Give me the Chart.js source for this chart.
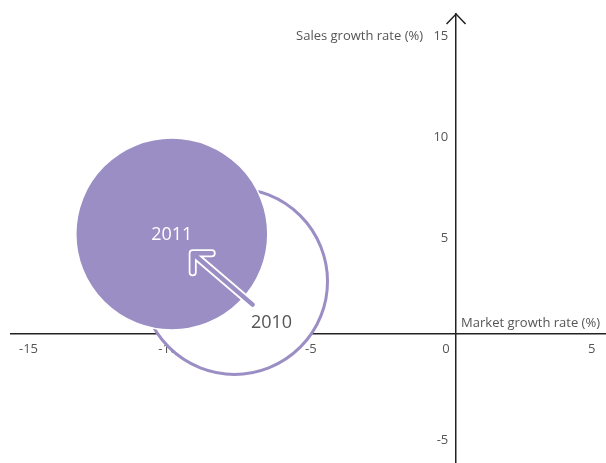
<!DOCTYPE html>
<html><head><meta charset="utf-8">
<script src="https://cdn.jsdelivr.net/npm/chart.js@4.4.1/dist/chart.umd.min.js"></script>
<style>html,body{margin:0;padding:0;background:#fff}#wrap{width:606px;height:463px;position:relative}</style>
</head><body><div id="wrap"><canvas id="c" width="606" height="463"></canvas></div>
<script>
const years = ['2010', '2011'];
const marketGrowth = [-7.95, -10.2];
const salesGrowth = [2.6, 4.95];
const bubbleRadius = [93, 96];
const xTicks = [-15, -10, -5, 0, 5];
const yTicks = [-5, 0, 5, 10, 15];
const arrowFrom = [-7.3, 1.45];
const arrowTo = [-9.45, 4.0];
const xTitle = 'Market growth rate (%)';
const yTitle = 'Sales growth rate (%)';

const PURPLE = '#9b8ec4';
const TEXT = '#555';
const AXIS = '#222';
const FONT = 'Open Sans';

const noPad = s => { s.paddingTop = 0; s.paddingBottom = 0; s.paddingLeft = 0; s.paddingRight = 0; };

const overlay = {
  id: 'overlay',
  afterDatasetsDraw(chart) {
    const ctx = chart.ctx, xs = chart.scales.x, ys = chart.scales.y, ca = chart.chartArea;
    const ax = xs.getPixelForValue(0), ay = ys.getPixelForValue(0);
    ctx.save();
    // axis arrow head
    ctx.strokeStyle = AXIS; ctx.lineWidth = 1.5; ctx.lineCap = 'butt';
    ctx.beginPath();
    ctx.moveTo(ax - 9.5, ca.top + 10); ctx.lineTo(ax, ca.top); ctx.lineTo(ax + 9.5, ca.top + 10);
    ctx.stroke();
    // axis titles
    ctx.fillStyle = TEXT; ctx.font = '13px "' + FONT + '"';
    ctx.textAlign = 'right'; ctx.textBaseline = 'middle';
    ctx.fillText(yTitle, ax - 33, ys.getPixelForValue(15) + 5);
    ctx.fillText(xTitle, ca.right - 6, ay - 11);
    // arrow from 2010 to 2011
    const f = {x: xs.getPixelForValue(arrowFrom[0]), y: ys.getPixelForValue(arrowFrom[1])};
    const t = {x: xs.getPixelForValue(arrowTo[0]), y: ys.getPixelForValue(arrowTo[1])};
    const arm = 19;
    const path = () => {
      ctx.beginPath();
      ctx.moveTo(f.x, f.y); ctx.lineTo(t.x + 2, t.y + 2);
      ctx.moveTo(t.x + arm, t.y); ctx.lineTo(t.x, t.y); ctx.lineTo(t.x, t.y + arm);
    };
    ctx.lineCap = 'round'; ctx.lineJoin = 'round';
    path(); ctx.strokeStyle = '#fff'; ctx.lineWidth = 8; ctx.stroke();
    path(); ctx.strokeStyle = PURPLE; ctx.lineWidth = 4.5; ctx.stroke();
    // year labels
    ctx.font = '18px "' + FONT + '"'; ctx.textAlign = 'center'; ctx.textBaseline = 'middle';
    const p0 = {x: xs.getPixelForValue(marketGrowth[0]), y: ys.getPixelForValue(salesGrowth[0])};
    const p1 = {x: xs.getPixelForValue(marketGrowth[1]), y: ys.getPixelForValue(salesGrowth[1])};
    ctx.fillStyle = '#fff'; ctx.fillText(years[1], p1.x, p1.y + 1);
    ctx.fillStyle = TEXT; ctx.fillText(years[0], p0.x + 37, p0.y + 41);
    ctx.restore();
  }
};

new Chart(document.getElementById('c'), {
  type: 'bubble',
  data: {
    datasets: [{
      data: years.map((y, i) => ({x: marketGrowth[i], y: salesGrowth[i], r: bubbleRadius[i]})),
      backgroundColor: ['#ffffff', PURPLE],
      borderColor: [PURPLE, '#ffffff'],
      borderWidth: [3, 1.5],
      hoverRadius: 0,
      clip: false
    }]
  },
  options: {
    responsive: false, devicePixelRatio: 1, animation: false,
    events: [],
    layout: {autoPadding: false, padding: {left: 11, top: 14, right: 0, bottom: 0}},
    plugins: {legend: {display: false}, tooltip: {enabled: false}},
    scales: {
      x: {
        type: 'linear', min: -15.97, max: 5.38, position: {y: 0},
        afterBuildTicks: s => { s.ticks = xTicks.map(v => ({value: v})); },
        afterFit: s => { s.height = 0; noPad(s); },
        grid: {drawOnChartArea: false, drawTicks: false},
        border: {display: true, color: AXIS, width: 1.5},
        ticks: {
          align: 'end', padding: 8, color: TEXT, autoSkip: false, maxRotation: 0,
          font: {family: FONT, size: 13},
          callback: v => v === 0 ? '0\u2002' : String(v)
        }
      },
      y: {
        type: 'linear', min: -6.39, max: 15.84, position: {x: 0},
        afterBuildTicks: s => { s.ticks = yTicks.map(v => ({value: v})); },
        afterFit: s => { s.width = 0; noPad(s); },
        grid: {drawOnChartArea: false, drawTicks: false},
        border: {display: true, color: AXIS, width: 1.5},
        ticks: {
          padding: 8, labelOffset: 5, color: TEXT, autoSkip: false,
          font: {family: FONT, size: 13},
          callback: v => v === 0 ? '' : String(v) + '\u2002\u200A'
        }
      }
    }
  },
  plugins: [overlay]
});
</script></body></html>
